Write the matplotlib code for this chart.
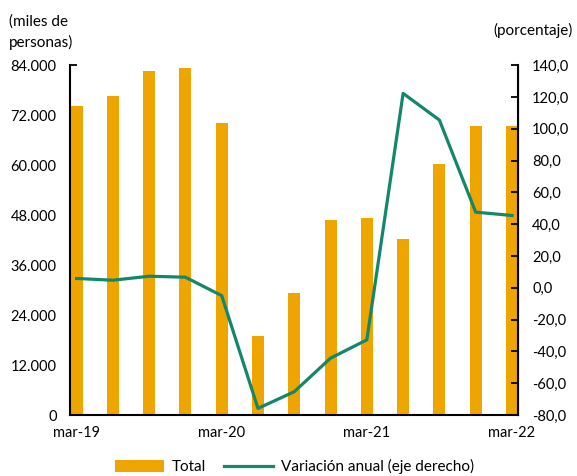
import matplotlib.pyplot as plt
import matplotlib.ticker as mticker

plt.rcParams['font.family'] = ['Lato', 'DejaVu Sans']

quarters = ['mar-19', 'jun-19', 'sep-19', 'dic-19', 'mar-20', 'jun-20', 'sep-20',
            'dic-20', 'mar-21', 'jun-21', 'sep-21', 'dic-21', 'mar-22']
total = [74200, 76600, 82500, 83400, 70200, 19000, 29200,
         46800, 47400, 42200, 60200, 69300, 69300]
variacion = [5.9, 4.8, 7.3, 6.7, -4.9, -75.8, -65.3,
             -44.2, -32.7, 122.3, 105.5, 47.6, 45.5]
xtick_labels = ['mar-19', 'mar-20', 'mar-21', 'mar-22']

bar_color = '#EFA500'
line_color = '#14876B'

fig = plt.figure(figsize=(5.77, 4.76), dpi=100)
ax = fig.add_axes([0.122, 0.128, 0.776, 0.735])
ax2 = ax.twinx()

x = list(range(len(quarters)))
bars = ax.bar(x, total, width=0.33, color=bar_color, label='Total', zorder=2)
line, = ax2.plot(x, variacion, color=line_color, lw=2.3, label='Variación anual (eje derecho)',
                 solid_joinstyle='round', zorder=3)

ax.set_xlim(-0.17, 12.17)
ax.set_ylim(0, 84000)
ax.set_yticks(range(0, 84001, 12000))
ax.yaxis.set_major_formatter(mticker.FuncFormatter(lambda v, p: f"{int(v):,}".replace(',', '.')))
ax2.set_ylim(-80, 140)
ax2.set_yticks(range(-80, 141, 20))
ax2.yaxis.set_major_formatter(mticker.FuncFormatter(lambda v, p: f"{v:.1f}".replace('.', ',')))

ax.set_xticks([0, 4, 8, 12])
ax.set_xticklabels(xtick_labels)

for a in (ax, ax2):
    a.spines['top'].set_visible(False)
    a.tick_params(direction='in', length=5, width=1.3, labelsize=10.5, colors='black')
    a.tick_params(axis='y', pad=10)
ax.tick_params(axis='x', pad=8)
ax.spines['left'].set_linewidth(1.5)
ax2.spines['right'].set_linewidth(1.5)
ax.spines['bottom'].set_linewidth(1.5)
ax2.spines['left'].set_visible(False)
ax2.spines['bottom'].set_visible(False)

fig.text(0.015, 0.97, '(miles de\npersonas)', ha='left', va='top', fontsize=11, linespacing=1.5)
fig.text(0.993, 0.935, '(porcentaje)', ha='right', va='center', fontsize=11)

fig.legend([bars, line], ['Total', 'Variación anual (eje derecho)'], loc='lower center',
           bbox_to_anchor=(0.51, -0.025), ncol=2, frameon=False, fontsize=11,
           handlelength=3.2, handleheight=0.8, handletextpad=0.5, columnspacing=1.2)

fig.savefig('out.png', dpi=100)
